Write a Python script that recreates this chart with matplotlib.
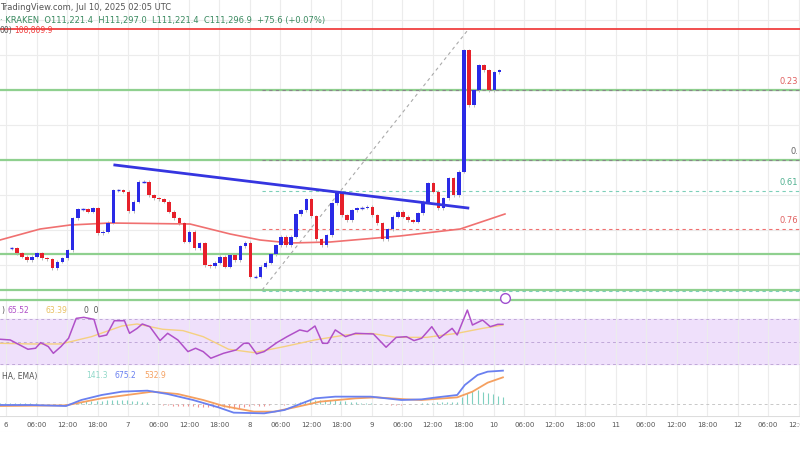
import matplotlib
matplotlib.use("Agg")
import matplotlib.pyplot as plt
import numpy as np

closes = [109517,109467,109433,109400,109433,109467,109417,109407,109317,109383,109417,109500,109817,109907,109907,109883,109917,109667,109683,109773,110100,110100,110083,109890,109983,110183,110183,110050,110017,110007,109983,109883,109817,109767,109583,109683,109517,109567,109350,109340,109373,109433,109333,109450,109400,109540,109573,109233,109233,109333,109373,109457,109550,109633,109550,109633,109860,109900,110007,109840,109607,109550,109650,109967,110067,109850,109800,109900,109917,109923,109933,109850,109767,109607,109707,109833,109883,109833,109800,109783,109867,109983,110167,110083,109917,110017,110217,110050,110283,111500,110950,111100,111350,111300,111100,111280,111300]
ma_t = [0,7.9,13.8,21.7,37.4,45.3,51.2,57.1,65,78.7,90.6,99.4]
ma_v = [109600,109710,109750,109770,109760,109660,109600,109570,109580,109640,109710,109860]
rsi_t = [0,2,5.5,7,8,9.5,10.5,12,13.5,15,16.5,18.5,19.5,21,22.5,24.5,25.5,27,28,29.5,31.5,33,35,37,38.5,40,41.5,44,46.5,48,49,50.5,52,54.5,56.5,59,60.5,62,63.5,64.5,66,68,70,73.5,76,78,80,81.5,83,85,86.5,89,90,92,93,95,96.5,98,99]
rsi_v = [52,51.4,43.1,44,49,45.5,39.5,45.5,52.9,70.6,71.5,69.7,54.3,55.8,68.5,68.5,57.3,61.7,65.6,63.2,50.8,57.3,51.4,41,44,41,35.1,39.5,42.5,48.4,48.4,39,41,49,54.3,60.3,58.8,63.8,48.4,48.4,60.3,54.3,57.3,56.7,44.9,53.7,54.3,50.8,52.9,63.2,52.9,61.7,55.8,78,64.7,69.1,63.2,65.3,65.3]
sig_t = [0,6,12,18,24,27,32,36,40,45,50,56,62,68,73,78,84,90,95,99]
sig_v = [48.4,47.8,47.8,54.3,63.8,65.6,60.9,59.7,54.3,43.1,40.1,45.5,51.4,55.8,57.3,53.7,53.7,57.3,61.7,64.7]
macd_t = [0,6,13,16,20,24,29,33,38,43,46,52,56,62,66,73,79,83,86,90,91.5,94,96,99]
macd_v = [-20,-20,-40,80,180,247,267,200,80,-67,-173,-187,-120,113,147,147,80,93,133,180,380,580,647,667]
ema_t = [0,13,20,30,35,40,44,50,54,58,63,70,74,80,83,90,93,96,99]
ema_v = [-40,-27,113,247,200,80,-40,-153,-153,-67,47,113,133,93,80,133,247,427,533]
tick_labels = ["6","06:00","12:00","18:00","7","06:00","12:00","18:00","8","06:00","12:00","18:00","9","06:00","12:00","18:00","10","06:00","12:00","18:00","11","06:00","12:00","18:00","12","06:00","12:00"]

PX = 5.08  # pixels per hour
XL = (0, 800/PX)
W, H = 800, 450
fig = plt.figure(figsize=(8, 4.5), dpi=100)
def ax_at(y0, y1):
    a = fig.add_axes([0, 1-y1/H, 1, (y1-y0)/H])
    a.set_xlim(*XL)
    for s in a.spines.values(): s.set_visible(False)
    a.set_xticks([]); a.set_yticks([])
    return a

ticks = [1.2 + 6*i for i in range(len(tick_labels))]
grid = "#ececec"

# main
ax = ax_at(0, 305)
ax.set_ylim(108950, 112000)
for t in ticks: ax.axvline(t, color=grid, lw=0.8, zorder=0)
for p in np.arange(111800, 108950, -350): ax.axhline(p, color=grid, lw=0.8, zorder=0)
n = len(closes)
big = int(np.argmax(closes))
xs = np.arange(n) + (91.3 - big)
opens = [closes[0]] + closes[:-1]
for x, o, c in zip(xs, opens, closes):
    col = "#2a2ae6" if c >= o else "#e6202a"
    hi, lo = max(o, c) + 15, min(o, c) - 15
    ax.vlines(x, lo, hi, color="#b0b0b0", lw=0.6, zorder=2)
    h = abs(c - o)
    if h < 8:
        ax.hlines(o, x-0.35, x+0.35, color=col, lw=1, zorder=3)
    else:
        ax.bar(x, c - o, bottom=o, width=0.7, color=col, zorder=3)
ax.axhline(111710, color="#f04040", lw=1.3, zorder=1)
for p in [111100, 110400, 109460, 109100, 109000]:
    ax.axhline(p, color="#8fd08f", lw=1.6, zorder=1)
xs0 = 51.6
for p, c in [(111100, "#888888"), (110400, "#888888"), (110090, "#7ccfb8"), (109710, "#f07070"), (109090, "#7ccfb8")]:
    ax.hlines(p, xs0, XL[1], colors=c, lw=0.8, linestyles=(0, (3, 3)), zorder=1)
ax.plot([51.6, 92.1], [109100, 111700], color="#aaaaaa", lw=0.8, ls=(0, (3, 3)), zorder=1)
ax.plot(ma_t, ma_v, color="#f07070", lw=1.2, zorder=2)
ax.plot([22.6, 92.1], [110350, 109920], color="#3535e0", lw=2, zorder=4)
ax.plot([99.4], [109020], marker="o", ms=7, mfc="white", mec="#a050d0", zorder=5)
for p, s, c in [(111100, "0.23", "#e06060"), (110400, "0.", "#666666"), (110090, "0.61", "#50b090"), (109710, "0.76", "#e06060")]:
    ax.text(XL[1]-0.3, p+40, s, color=c, fontsize=6, va="bottom", ha="right")
fig.text(0, 1-7/H, "TradingView.com, Jul 10, 2025 02:05 UTC", fontsize=6, color="#555555", va="center")
fig.text(0, 1-20/H, "· KRAKEN  O111,221.4  H111,297.0  L111,221.4  C111,296.9  +75.6 (+0.07%)", fontsize=6, color="#3a8a60", va="center")
fig.text(0, 1-30/H, "00)", fontsize=5.5, color="#555555", va="center")
fig.text(0.018, 1-30/H, "108,809.9", fontsize=5.5, color="#f04040", va="center")

# RSI
ar = ax_at(305, 367)
ar.set_ylim(27.3, 82.5)
ar.axhspan(30, 70, color="#efe0fb", zorder=0)
for t in ticks: ar.axvline(t, color=grid, lw=0.8, zorder=0)
for v in [30, 50, 70]:
    ar.axhline(v, color="#c0a8d8", lw=0.7, ls=(0, (3, 3)))
ar.plot(sig_t, sig_v, color="#f5d080", lw=1)
ar.plot(rsi_t, rsi_v, color="#b050c8", lw=1.1)
ar.text(0.3, 78, ")", fontsize=5.5, color="#555555", va="center")
ar.text(1.5, 78, "65.52", fontsize=5.5, color="#b050c8", va="center")
ar.text(9, 78, "63.39", fontsize=5.5, color="#e8c060", va="center")
ar.text(16.5, 78, "0  0", fontsize=5.5, color="#555555", va="center")

# MACD
am = ax_at(367, 416)
am.set_ylim(-240, 740)
for t in ticks: am.axvline(t, color=grid, lw=0.8, zorder=0)
am.axhline(0, color="#c8c8c8", lw=0.7, ls=(0, (3, 3)))
ht = np.arange(0, 100, 1.0)
hist = np.interp(ht, macd_t, macd_v) - np.interp(ht, ema_t, ema_v)
am.vlines(ht, 0, hist, colors=np.where(hist >= 0, "#7fd0c0", "#f09090"), lw=0.8)
am.plot(ema_t, ema_v, color="#f5a060", lw=1.3)
am.plot(macd_t, macd_v, color="#6a80f0", lw=1.3)
am.text(0.3, 560, "HA, EMA)", fontsize=5.5, color="#555555", va="center")
am.text(17, 560, "141.3", fontsize=5.5, color="#8fd8c8", va="center")
am.text(22.5, 560, "675.2", fontsize=5.5, color="#6a80f0", va="center")
am.text(28.5, 560, "532.9", fontsize=5.5, color="#f5a060", va="center")

# time axis
at = ax_at(416, 432)
at.set_ylim(0, 1)
at.axhline(1, color="#dddddd", lw=0.8)
at.axhline(0, color="#eeeeee", lw=0.8)
for t, s in zip(ticks, tick_labels):
    at.text(t, 0.45, s, fontsize=5, color="#555555", ha="center", va="center")

fig.savefig("out.png", dpi=100, facecolor="white")
